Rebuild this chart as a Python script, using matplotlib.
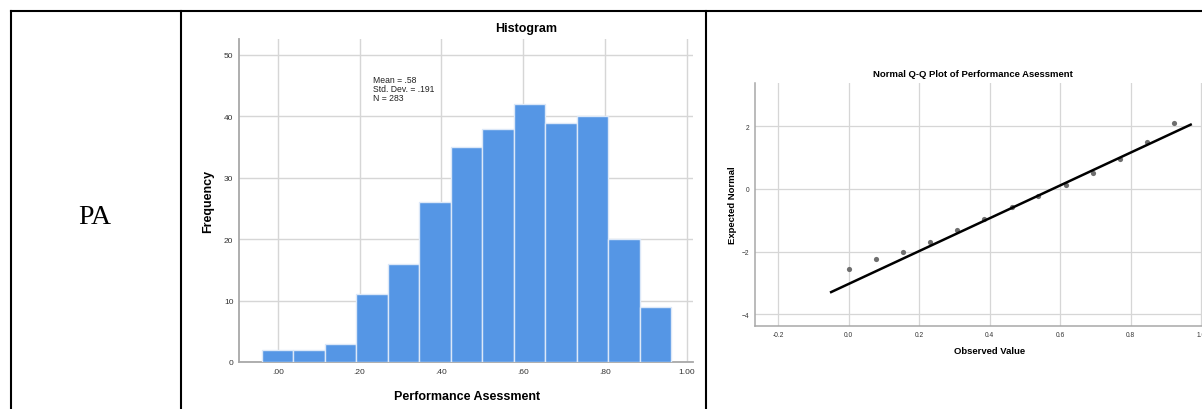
import matplotlib
matplotlib.use("Agg")
import matplotlib.pyplot as plt
from matplotlib.lines import Line2D

# dados
row_label = "PA"
var_name = "Performance Asessment"

# valores observados (13 niveis) e frequencias do histograma
obs_values = [0.0, 0.077, 0.154, 0.231, 0.308, 0.385, 0.462,
              0.538, 0.615, 0.692, 0.769, 0.846, 0.923]
bin_width = 0.0769
freqs = [2, 2, 3, 11, 16, 26, 35, 38, 42, 39, 40, 20, 9]

mean_val = 0.578
std_val = 0.191
n_obs = 283

# normal esperado (Q-Q) para cada valor observado
expected_normal = [-2.55, -2.22, -2.02, -1.68, -1.32, -0.95, -0.58,
                   -0.22, 0.12, 0.50, 0.97, 1.50, 2.12]
line_x = [-0.05, 0.97]

hist_xticks = [0.0, 0.2, 0.4, 0.6, 0.8, 1.0]
hist_xticklabels = [".00", ".20", ".40", ".60", ".80", "1.00"]
hist_yticks = [0, 10, 20, 30, 40, 50]
qq_xticks = [-0.2, 0.0, 0.2, 0.4, 0.6, 0.8, 1.0]
qq_yticks = [-4, -2, 0, 2]

W, H = 1202, 410
plt.rcParams["font.family"] = ["Liberation Sans", "DejaVu Sans"]

fig = plt.figure(figsize=(W / 100, H / 100), dpi=100)


def px(x, y):
    # converte pixel (origem topo-esquerda) para fracao da figura
    return x / W, 1 - y / H


def box(l, t, r, b):
    return [l / W, 1 - b / H, (r - l) / W, (b - t) / H]


grid_c = "#d6d6d6"
spine_c = "#a8a8a8"
tick_c = "#333333"

# ---- histograma
ax1 = fig.add_axes(box(239, 40, 693, 363))
ax1.set_axisbelow(True)
ax1.bar(obs_values, freqs, width=bin_width, color="#5596e5",
        edgecolor="#dce8f8", linewidth=1.0, zorder=3)
ax1.set_xlim(-0.0946, 1.015)
ax1.set_ylim(0, 52.6)
ax1.set_xticks(hist_xticks)
ax1.set_xticklabels(hist_xticklabels)
ax1.set_yticks(hist_yticks)
ax1.grid(True, color=grid_c, linewidth=1.0)
for s in ["top", "right"]:
    ax1.spines[s].set_visible(False)
for s in ["left", "bottom"]:
    ax1.spines[s].set_color(spine_c)
    ax1.spines[s].set_linewidth(1.3)
ax1.tick_params(length=0, labelsize=6, colors=tick_c, pad=4)

fig.text(*px(525.7, 29), "Histogram", ha="center", va="center",
         fontsize=9, fontweight="bold")
fig.text(*px(467, 397), var_name, ha="center", va="center",
         fontsize=9, fontweight="bold")
fig.text(*px(208, 201), "Frequency", ha="center", va="center",
         rotation=90, fontsize=9, fontweight="bold")
stats_txt = f"Mean = .{int(round(mean_val * 100))}\nStd. Dev. = .{int(round(std_val * 1000))}\nN = {n_obs}"
fig.text(*px(373, 76), stats_txt, ha="left", va="top", fontsize=6.2,
         linespacing=1.0, color="#222222")

# ---- Q-Q normal
ax2 = fig.add_axes(box(755, 84, 1215, 326.7))
ax2.set_axisbelow(True)
ax2.scatter(obs_values, expected_normal, s=14, color="#6e6e6e",
            linewidths=0, zorder=3)
line_y = [(x - mean_val) / std_val for x in line_x]
ax2.plot(line_x, line_y, color="black", linewidth=1.8, zorder=4)
ax2.set_xlim(-0.266, 1.039)
ax2.set_ylim(-4.36, 3.38)
ax2.set_xticks(qq_xticks)
ax2.set_xticklabels([f"{v:.1f}" for v in qq_xticks])
ax2.set_yticks(qq_yticks)
ax2.grid(True, color=grid_c, linewidth=0.9)
for s in ["top", "right"]:
    ax2.spines[s].set_visible(False)
for s in ["left", "bottom"]:
    ax2.spines[s].set_color(spine_c)
    ax2.spines[s].set_linewidth(1.1)
ax2.tick_params(length=0, labelsize=4.8, colors=tick_c, pad=4)

fig.text(*px(973, 75), "Normal Q-Q Plot of " + var_name, ha="center",
         va="center", fontsize=6.8, fontweight="bold")
fig.text(*px(990, 352), "Observed Value", ha="center", va="center",
         fontsize=6.8, fontweight="bold")
fig.text(*px(732.7, 205), "Expected Normal", ha="center", va="center",
         rotation=90, fontsize=6.8, fontweight="bold")

# ---- linhas da tabela
tl = dict(color="black", linewidth=1.5, solid_capstyle="projecting")
x0, y0 = px(11, 12)
fig.add_artist(Line2D([x0, 1.0], [y0, y0], **tl))
for xv in [11, 181, 706]:
    xf, _ = px(xv, 0)
    fig.add_artist(Line2D([xf, xf], [0, y0], **tl))

fig.text(*px(95, 218), row_label, ha="center", va="center", fontsize=20,
         family=["Liberation Serif", "DejaVu Serif"])

fig.savefig("out.png", dpi=100)
